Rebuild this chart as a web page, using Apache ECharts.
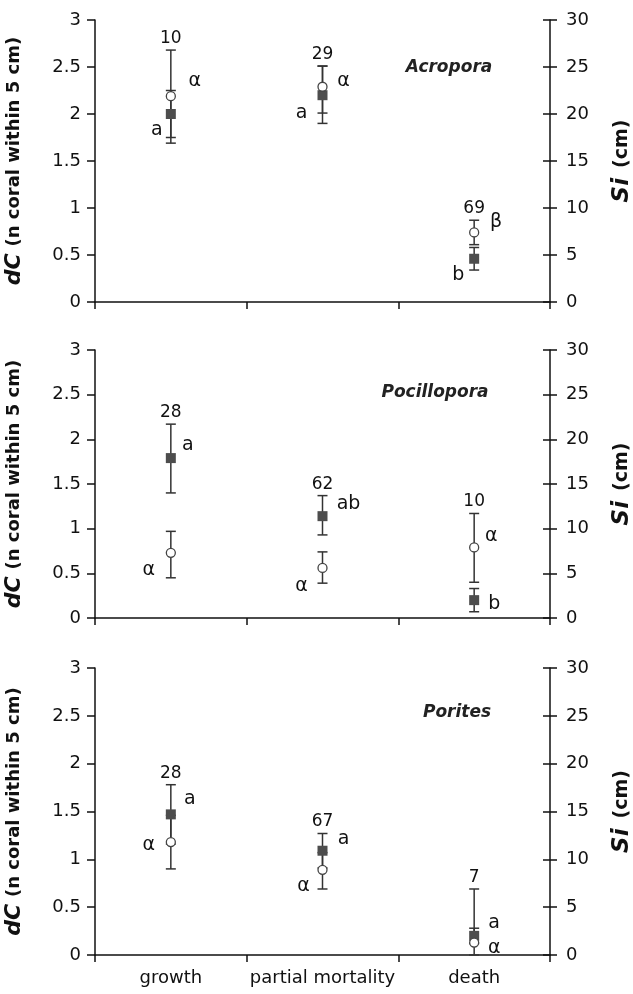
<!DOCTYPE html>
<html>
<head>
<meta charset="utf-8">
<script src="https://cdn.jsdelivr.net/npm/echarts@6/dist/echarts.min.js"></script>
<style>
  html, body { margin: 0; padding: 0; background: #fff; }
  #chart { width: 633px; height: 994px; }
</style>
</head>
<body>
<div id="chart"></div>
<script>
// data
const categories = ['growth', 'partial mortality', 'death'];
const species = ['Acropora', 'Pocillopora', 'Porites'];

// dC (left axis), filled squares
const dcMean = [[2.00, 2.20, 0.46], [1.79, 1.14, 0.20], [1.47, 1.09, 0.20]];
const dcLow  = [[1.75, 1.90, 0.34], [1.40, 0.93, 0.07], [1.16, 0.91, 0.12]];
const dcHigh = [[2.25, 2.51, 0.58], [2.17, 1.37, 0.33], [1.78, 1.27, 0.28]];

// Si in cm (right axis), open circles
const siMean = [[21.9, 22.9, 7.4], [7.3, 5.6, 7.9], [11.8, 8.9, 1.3]];
const siLow  = [[16.9, 20.1, 6.1], [4.5, 3.9, 4.0], [9.0, 6.9, 0.0]];
const siHigh = [[26.8, 25.1, 8.7], [9.7, 7.4, 11.7], [14.6, 10.7, 6.9]];

const sampleN   = [[10, 29, 69], [28, 62, 10], [28, 67, 7]];
const dcLetters = [['a', 'a', 'b'], ['a', 'ab', 'b'], ['a', 'a', 'a']];
const siLetters = [['α', 'α', 'β'], ['α', 'α', 'α'], ['α', 'α', 'α']];

// label offsets (px) of the letters relative to their marker
const dcLetterOffset = [
  [[-14, 16], [-21, 18], [-16, 16]],
  [[17, -13], [26, -12], [20, 4]],
  [[19, -15], [21, -12], [20, -13]]
];
const siLetterOffset = [
  [[24, -15], [21, -6], [22, -10]],
  [[-22, 17], [-21, 18], [17, -11]],
  [[-22, 3], [-19, 16], [20, 5]]
];

const FONT = "'DejaVu Sans', 'Liberation Sans', Arial, sans-serif";
const INK = '#111';
const grids = [
  { left: 95, right: 83, top: 20, height: 282, outerBoundsMode: 'none', containLabel: false },
  { left: 95, right: 83, top: 350, height: 268, outerBoundsMode: 'none', containLabel: false },
  { left: 95, right: 83, top: 668, height: 287, outerBoundsMode: 'none', containLabel: false }
];
const speciesPos = [[449, 68], [435, 393], [457, 713]];

function errorBar(xAxisIndex, yAxisIndex, data) {
  return {
    type: 'custom',
    xAxisIndex: xAxisIndex,
    yAxisIndex: yAxisIndex,
    z: 2,
    silent: true,
    renderItem: function (params, api) {
      const lo = api.coord([api.value(0), api.value(1)]);
      const hi = api.coord([api.value(0), api.value(2)]);
      const w = 5;
      const st = { stroke: '#333', lineWidth: 1.5 };
      return {
        type: 'group',
        children: [
          { type: 'line', shape: { x1: lo[0], y1: lo[1], x2: hi[0], y2: hi[1] }, style: st },
          { type: 'line', shape: { x1: hi[0] - w, y1: hi[1], x2: hi[0] + w, y2: hi[1] }, style: st },
          { type: 'line', shape: { x1: lo[0] - w, y1: lo[1], x2: lo[0] + w, y2: lo[1] }, style: st }
        ]
      };
    },
    data: data
  };
}

const xAxes = [], yAxes = [], series = [], graphics = [];

grids.forEach(function (g, p) {
  const last = p === grids.length - 1;
  // main category axis
  xAxes.push({
    type: 'category', gridIndex: p, data: categories, boundaryGap: true,
    axisLine: { lineStyle: { color: INK, width: 1.5 } },
    axisTick: { show: true, length: 7, interval: 0, lineStyle: { color: INK, width: 1.5 } },
    axisLabel: { show: last, interval: 0, color: INK, fontSize: 18, fontFamily: FONT, margin: 14 },
    splitLine: { show: false }
  });
  // same axis again for the inner half of the crossing ticks
  xAxes.push({
    type: 'category', gridIndex: p, data: categories, boundaryGap: true,
    axisLine: { show: false },
    axisTick: { show: true, inside: true, length: 6, interval: 0, lineStyle: { color: INK, width: 1.5 } },
    axisLabel: { show: false }
  });
  const xi = p * 2;
  const yl = p * 3, yr = p * 3 + 1;
  yAxes.push({
    type: 'value', gridIndex: p, position: 'left', min: 0, max: 3, interval: 0.5,
    name: '{b|dC}  {n|(n coral within 5 cm)}', nameLocation: 'middle', nameRotate: 90, nameGap: 70,
    nameTextStyle: {
      color: INK,
      rich: {
        b: { fontSize: 22, fontWeight: 'bold', fontStyle: 'italic', fontFamily: FONT, color: INK },
        n: { fontSize: 18, fontWeight: 'bold', fontFamily: FONT, color: INK }
      }
    },
    axisLine: { show: true, lineStyle: { color: INK, width: 1.5 } },
    axisTick: { show: true, length: 8, lineStyle: { color: INK, width: 1.5 } },
    axisLabel: { color: INK, fontSize: 18, fontFamily: FONT, margin: 14 },
    splitLine: { show: false }
  });
  yAxes.push({
    type: 'value', gridIndex: p, position: 'right', min: 0, max: 30, interval: 5,
    name: '{b|Si}   {n|(cm)}', nameLocation: 'middle', nameRotate: 90, nameGap: 61,
    nameTextStyle: {
      color: INK,
      rich: {
        b: { fontSize: 23, fontWeight: 'bold', fontStyle: 'italic', fontFamily: FONT, color: INK },
        n: { fontSize: 19, fontWeight: 'bold', fontFamily: FONT, color: INK }
      }
    },
    axisLine: { show: true, lineStyle: { color: INK, width: 1.5 } },
    axisTick: { show: true, length: 7, lineStyle: { color: INK, width: 1.5 } },
    axisLabel: { color: INK, fontSize: 18, fontFamily: FONT, margin: 16 },
    splitLine: { show: false }
  });
  yAxes.push({
    type: 'value', gridIndex: p, position: 'right', min: 0, max: 30, interval: 5,
    axisLine: { show: false },
    axisTick: { show: true, inside: true, length: 7, lineStyle: { color: INK, width: 1.5 } },
    axisLabel: { show: false },
    splitLine: { show: false }
  });

  const dcBars = [], siBars = [], squares = [], circles = [], nLabels = [];
  categories.forEach(function (c, i) {
    dcBars.push([i, dcLow[p][i], dcHigh[p][i]]);
    siBars.push([i, siLow[p][i], siHigh[p][i]]);
    squares.push({
      value: [i, dcMean[p][i]], name: dcLetters[p][i],
      label: { offset: dcLetterOffset[p][i] }
    });
    circles.push({
      value: [i, siMean[p][i]], name: siLetters[p][i],
      label: { offset: siLetterOffset[p][i] }
    });
    nLabels.push({ value: [i, Math.max(dcHigh[p][i], siHigh[p][i] / 10)], name: String(sampleN[p][i]) });
  });

  const letterLabel = {
    show: true, position: 'inside', formatter: '{b}',
    color: INK, fontSize: 19, fontFamily: FONT
  };
  series.push(errorBar(xi, yl, dcBars));
  series.push(errorBar(xi, yr, siBars));
  series.push({
    type: 'scatter', xAxisIndex: xi, yAxisIndex: yl, z: 4, symbol: 'rect', symbolSize: 10,
    itemStyle: { color: '#4d4d4d', opacity: 1 }, label: letterLabel, data: squares, silent: true
  });
  series.push({
    type: 'scatter', xAxisIndex: xi, yAxisIndex: yr, z: 5, symbol: 'circle', symbolSize: 9,
    itemStyle: { color: '#fff', borderColor: '#444', borderWidth: 1.3, opacity: 1 }, label: letterLabel,
    data: circles, silent: true
  });
  series.push({
    type: 'scatter', xAxisIndex: xi, yAxisIndex: yl, z: 6, symbolSize: 0,
    itemStyle: { opacity: 1 },
    label: { show: true, position: 'top', distance: 3, formatter: '{b}', color: INK, fontSize: 17, fontFamily: FONT },
    data: nLabels, silent: true
  });

  graphics.push({
    type: 'text', x: speciesPos[p][0], y: speciesPos[p][1],
    style: {
      text: species[p], fill: '#222', font: 'italic bold 17px ' + FONT,
      textAlign: 'center', textVerticalAlign: 'middle'
    }
  });
});

const chart = echarts.init(document.getElementById('chart'), null, { renderer: 'canvas' });
chart.setOption({
  animation: false,
  backgroundColor: '#fff',
  grid: grids,
  xAxis: xAxes,
  yAxis: yAxes,
  series: series,
  graphic: graphics
});
</script>
</body>
</html>
